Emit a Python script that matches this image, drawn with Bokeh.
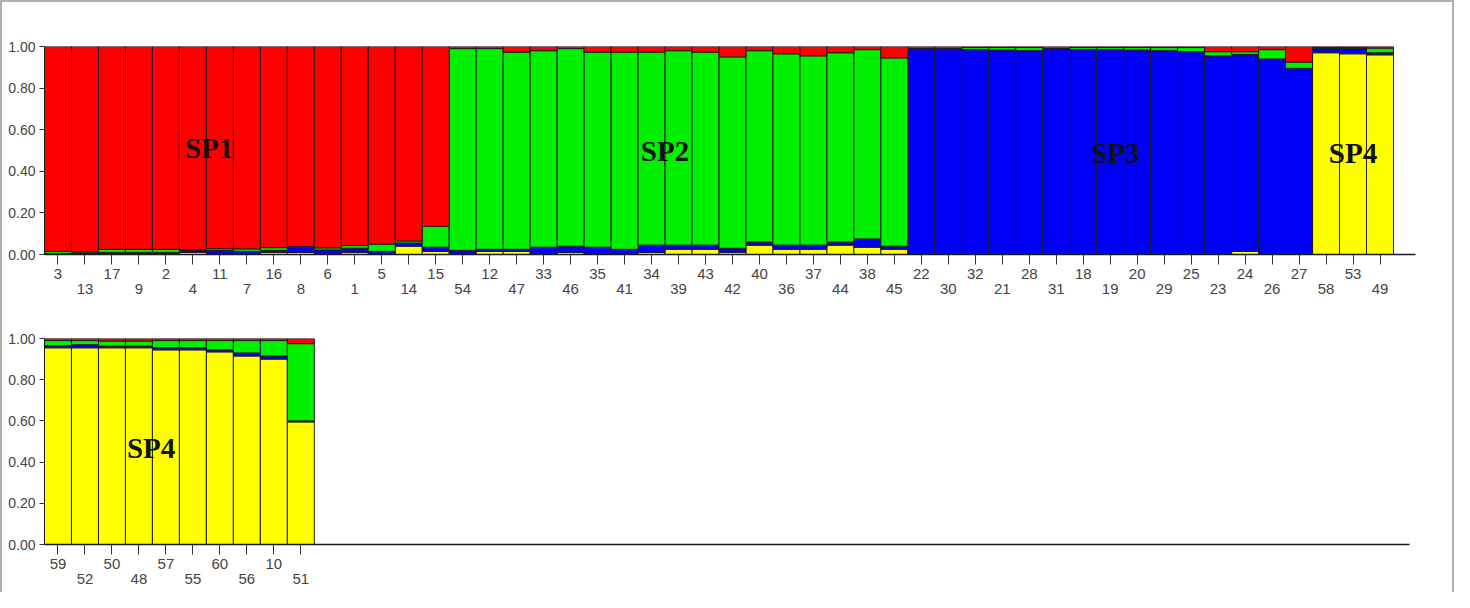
from bokeh.plotting import figure
from bokeh.models import FixedTicker, LinearAxis, NumeralTickFormatter, Range1d, ColumnDataSource, Label
from bokeh.layouts import column
from bokeh.embed import file_html
from bokeh.resources import INLINE

# ---- data: membership proportions (stack order bottom->top: yellow, blue, green, red)
top_ids = ["3", "13", "17", "9", "2", "4", "11", "7", "16", "8", "6", "1", "5", "14", "15",
           "54", "12", "47", "33", "46", "35", "41", "34", "39", "43", "42", "40", "36", "37", "44", "38", "45",
           "22", "30", "32", "21", "28", "31", "18", "19", "20", "29", "25", "23", "24", "26", "27",
           "58", "53", "49"]
top_yellow = [0, 0.005, 0, 0, 0, 0.01, 0, 0, 0.01, 0.01, 0, 0.01, 0, 0.04, 0.015,
              0, 0.015, 0.015, 0, 0.01, 0.005, 0.005, 0.01, 0.025, 0.025, 0.01, 0.045, 0.025, 0.025, 0.045, 0.035, 0.025,
              0, 0, 0, 0, 0, 0, 0, 0, 0, 0, 0, 0, 0.015, 0, 0,
              0.97, 0.965, 0.96]
top_blue = [0.005, 0.003, 0.01, 0.01, 0.01, 0.012, 0.02, 0.015, 0.01, 0.025, 0.022, 0.02, 0.015, 0.015, 0.02,
            0.02, 0.01, 0.01, 0.035, 0.03, 0.03, 0.02, 0.035, 0.02, 0.02, 0.02, 0.015, 0.02, 0.02, 0.015, 0.04, 0.015,
            0.985, 0.985, 0.985, 0.983, 0.98, 0.99, 0.985, 0.985, 0.983, 0.98, 0.975, 0.955, 0.947, 0.94, 0.895,
            0.02, 0.025, 0.01]
top_green = [0.01, 0.005, 0.015, 0.015, 0.015, 0, 0.008, 0.012, 0.013, 0.003, 0.01, 0.013, 0.035, 0.01, 0.10,
             0.97, 0.965, 0.948, 0.945, 0.95, 0.938, 0.948, 0.928, 0.935, 0.928, 0.92, 0.92, 0.92, 0.91, 0.91, 0.91, 0.905,
             0.005, 0.005, 0.01, 0.012, 0.015, 0, 0.01, 0.01, 0.012, 0.015, 0.02, 0.02, 0.013, 0.045, 0.03,
             0.005, 0.005, 0.022]
top_red = [0.985, 0.987, 0.975, 0.975, 0.975, 0.978, 0.972, 0.973, 0.967, 0.962, 0.968, 0.957, 0.95, 0.935, 0.865,
           0.01, 0.01, 0.027, 0.02, 0.01, 0.027, 0.027, 0.027, 0.02, 0.027, 0.05, 0.02, 0.035, 0.045, 0.03, 0.015, 0.055,
           0.01, 0.01, 0.005, 0.005, 0.005, 0.01, 0.005, 0.005, 0.005, 0.005, 0.005, 0.025, 0.025, 0.015, 0.075,
           0.005, 0.005, 0.008]

bot_ids = ["59", "52", "50", "48", "57", "55", "60", "56", "10", "51"]
bot_yellow = [0.955, 0.955, 0.955, 0.955, 0.945, 0.945, 0.935, 0.915, 0.90, 0.595]
bot_blue = [0.01, 0.015, 0.008, 0.008, 0.01, 0.01, 0.01, 0.015, 0.015, 0.005]
bot_green = [0.025, 0.02, 0.025, 0.025, 0.035, 0.035, 0.045, 0.06, 0.075, 0.375]
bot_red = [0.01, 0.01, 0.012, 0.012, 0.01, 0.01, 0.01, 0.01, 0.01, 0.025]

top_groups = ["SP1", "SP2", "SP3", "SP4"]
top_group_pos = [(6.1, 0.51), (23.0, 0.50), (39.7, 0.49), (48.5, 0.49)]
bot_groups = ["SP4"]
bot_group_pos = [(3.95, 0.47)]

y_ticks = [0.0, 0.2, 0.4, 0.6, 0.8, 1.0]

COLORS = ["#ffff00", "#0000f8", "#00f000", "#ff0000"]
TICK_FONT = "Liberation Sans"


def panel(ids, yel, blu, grn, red, groups, gpos, frame_width, x_end, top_border, frame_height):
    n = len(ids)
    xs = [i + 0.5 for i in range(n)]
    src = ColumnDataSource(dict(x=xs, yellow=yel, blue=blu, green=grn, red=red))
    p = figure(frame_width=frame_width, frame_height=frame_height,
               x_range=Range1d(0, x_end), y_range=Range1d(0, 1),
               output_backend="svg", toolbar_location=None,
               min_border_left=42, min_border_right=1450 - 42 - frame_width,
               min_border_top=top_border, min_border_bottom=48,
               background_fill_color="white", border_fill_color="white")
    p.outline_line_color = None
    p.grid.visible = False
    p.vbar_stack(["yellow", "blue", "green", "red"], x="x", width=1.0, source=src,
                 color=COLORS, line_color="#1e1e1e", line_width=1)

    # x axis: first label row
    ax = p.xaxis[0]
    ax.ticker = FixedTicker(ticks=xs)
    ax.major_label_overrides = {xs[i]: (ids[i] if i % 2 == 0 else "") for i in range(n)}
    ax.axis_line_color = "#1a1a1a"
    ax.axis_line_width = 1.5
    ax.major_tick_line_color = "#333333"
    ax.major_tick_in = 0
    ax.major_tick_out = 10
    ax.minor_tick_line_color = None
    ax.major_label_standoff = 4
    ax.major_label_text_font = TICK_FONT
    ax.major_label_text_font_size = "15px"
    ax.major_label_text_color = "#444444"

    # x axis: second label row
    odd = [xs[i] for i in range(n) if i % 2 == 1]
    ax2 = LinearAxis(ticker=FixedTicker(ticks=odd),
                     major_label_overrides={xs[i]: ids[i] for i in range(n) if i % 2 == 1})
    ax2.axis_line_color = None
    ax2.major_tick_line_color = None
    ax2.major_tick_in = 0
    ax2.major_tick_out = 0
    ax2.minor_tick_line_color = None
    ax2.major_label_standoff = 2
    ax2.major_label_text_font = TICK_FONT
    ax2.major_label_text_font_size = "15px"
    ax2.major_label_text_color = "#444444"
    p.add_layout(ax2, "below")

    ay = p.yaxis[0]
    ay.ticker = FixedTicker(ticks=y_ticks)
    ay.formatter = NumeralTickFormatter(format="0.00")
    ay.axis_line_color = "#1a1a1a"
    ay.major_tick_line_color = "#333333"
    ay.major_tick_in = 0
    ay.major_tick_out = 5
    ay.minor_tick_line_color = None
    ay.major_label_standoff = 4
    ay.major_label_text_font = TICK_FONT
    ay.major_label_text_font_size = "14px"
    ay.major_label_text_color = "#444444"

    for g, (gx, gy) in zip(groups, gpos):
        p.add_layout(Label(x=gx, y=gy, text=g, text_font="Liberation Serif",
                           text_font_style="bold", text_font_size="29px",
                           text_align="center", text_baseline="middle", text_color="#111111"))
    return p


p1 = panel(top_ids, top_yellow, top_blue, top_green, top_red, top_groups, top_group_pos,
           1371, 1371 / 26.98, 44, 208)
p2 = panel(bot_ids, bot_yellow, bot_blue, bot_green, bot_red, bot_groups, bot_group_pos,
           1365, 1365 / 26.98, 36, 206)

layout = column(p1, p2, spacing=0,
                styles={"border-left": "2px solid #b0b0b0", "border-top": "2px solid #b0b0b0",
                        "border-right": "2px solid #b0b0b0"})

open("out.html", "w").write(file_html(layout, INLINE))
